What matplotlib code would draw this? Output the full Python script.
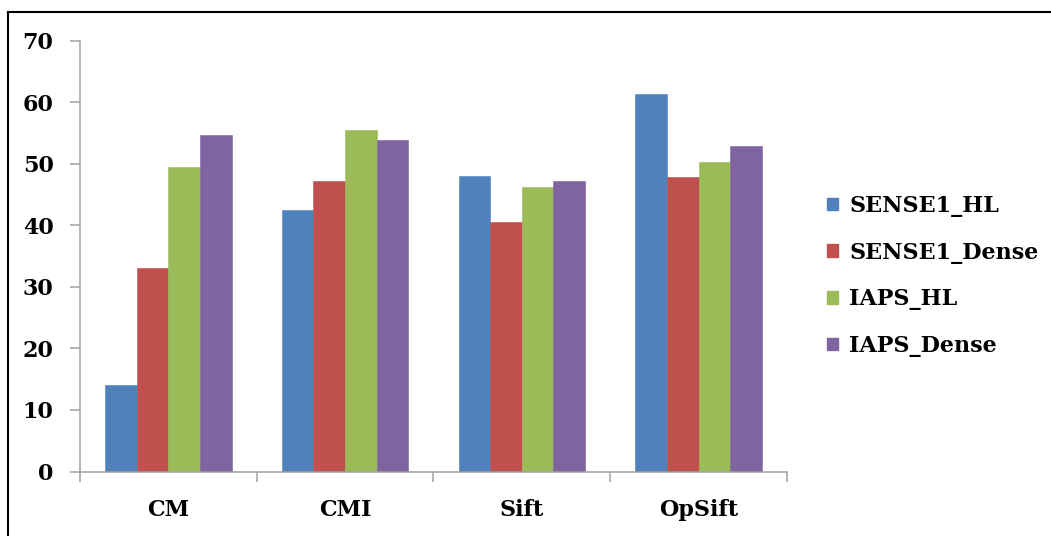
import numpy as np
import matplotlib
matplotlib.use("Agg")
import matplotlib.pyplot as plt
from matplotlib.patches import Patch
from matplotlib.lines import Line2D

plt.rcParams["font.family"] = "DejaVu Serif"
plt.rcParams["font.weight"] = "bold"

# ── Data ─────────────────────────────────────────────────────────────────────
categories = ["CM", "CMI", "Sift", "OpSift"]
series_names = ["SENSE1_HL", "SENSE1_Dense", "IAPS_HL", "IAPS_Dense"]
sense1_hl = [14.1, 42.5, 48.0, 61.3]
sense1_dense = [33.0, 47.2, 40.5, 47.9]
iaps_hl = [49.5, 55.5, 46.2, 50.3]
iaps_dense = [54.6, 53.8, 47.2, 52.8]
y_ticks = [0, 10, 20, 30, 40, 50, 60, 70]

COLORS = ["#4F81BD", "#C0504D", "#9BBB59", "#8064A2"]
AXIS_C = "#A0A0A0"

fig = plt.figure(figsize=(10.51, 5.36), dpi=100)
ax = fig.add_axes([0.0761, 0.1203, 0.6727, 0.8041])

x = np.arange(len(categories))
bar_w = 0.179
all_series = [sense1_hl, sense1_dense, iaps_hl, iaps_dense]
for i, (vals, name) in enumerate(zip(all_series, series_names)):
    ax.bar(x + (i - 1.5) * bar_w, vals, bar_w, color=COLORS[i],
           edgecolor=COLORS[i], linewidth=0.4, label=name, zorder=2)

ax.set_xlim(-0.5, len(categories) - 0.5)
ax.set_ylim(0, 70)
ax.set_yticks(y_ticks)
ax.set_yticklabels([str(t) for t in y_ticks], fontsize=16, fontweight="bold")

# category labels centred, ticks between categories
ax.set_xticks(np.arange(-0.5, len(categories)), minor=False)
ax.set_xticklabels([""] * (len(categories) + 1))
ax.set_xticks(x, minor=True)
ax.set_xticklabels(categories, minor=True, fontsize=16, fontweight="bold")
ax.tick_params(axis="x", which="minor", length=0, pad=20)
ax.tick_params(axis="x", which="major", length=7, width=1.1, color=AXIS_C, direction="out")
ax.tick_params(axis="y", length=7, width=1.1, color=AXIS_C, direction="out", pad=12)

for s in ["top", "right"]:
    ax.spines[s].set_visible(False)
for s in ["left", "bottom"]:
    ax.spines[s].set_color(AXIS_C)
    ax.spines[s].set_linewidth(1.1)

handles = [Patch(facecolor=c, edgecolor=c) for c in COLORS]
fig.legend(handles, series_names, loc="center left",
           bbox_to_anchor=(0.768, 0.485), frameon=False,
           handlelength=0.5, handleheight=0.5, handletextpad=0.5,
           labelspacing=1.11, prop={"size": 16, "weight": "bold"})

# outer frame (left and top edges visible)
fig.add_artist(Line2D([7.5 / 1051, 7.5 / 1051], [0, 1 - 12 / 536],
                      transform=fig.transFigure, color="black", lw=1.5))
fig.add_artist(Line2D([7.5 / 1051, 1], [1 - 12 / 536, 1 - 12 / 536],
                      transform=fig.transFigure, color="black", lw=1.5))

fig.savefig("out.png", dpi=100)
